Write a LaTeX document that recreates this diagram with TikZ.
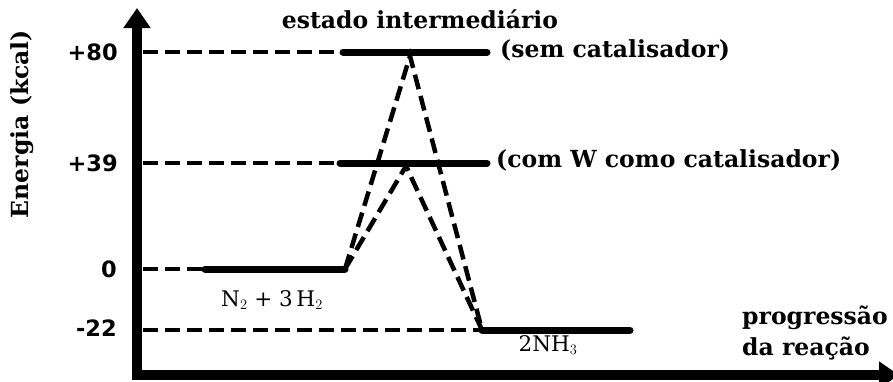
\documentclass[tikz,border=0pt]{standalone}
\usepackage{fontspec}
\setmainfont{DejaVu Serif}
\newfontfamily\numfont{DejaVu Sans}
\usetikzlibrary{arrows.meta}
\begin{document}
\begin{tikzpicture}[x=1pt,y=-1pt,
  axisline/.style={line width=10pt, line join=miter},
  levelbar/.style={line width=7pt, line cap=round},
  guide/.style={line width=4.5pt, dash pattern=on 15pt off 7pt},
  lbl/.style={font=\fontsize{23.5}{26}\selectfont\bfseries, inner sep=0pt},
  numlbl/.style={font=\fontsize{22.5}{24}\selectfont\numfont\bfseries, inner sep=0pt, anchor=east},
  chem/.style={font=\fontsize{21.5}{24}\selectfont, inner sep=0pt}]
\useasboundingbox (0,0) rectangle (893,381);
% axes
\coordinate (Ytop) at (137,8);
\coordinate (O) at (137,375);
\coordinate (Xend) at (899,375);
\draw[axisline, {Triangle[width=26pt,length=20pt]}-{Triangle[width=26pt,length=20pt]}] (Ytop) -- (O) -- (Xend);
% level coordinates
\coordinate (g80) at (143,52);  \coordinate (a80) at (343,52);  \coordinate (b80) at (487,52);
\coordinate (g39) at (143,163); \coordinate (a39) at (340,163); \coordinate (b39) at (487,163);
\coordinate (g0)  at (143,269); \coordinate (a0)  at (205,269); \coordinate (b0)  at (345,269);
\coordinate (g22) at (143,330); \coordinate (a22) at (482,330); \coordinate (b22) at (630,330);
\coordinate (p80) at (410,56);
\coordinate (p39) at (406,166);
% guides
\draw[guide] (g80) -- (a80);
\draw[guide] (g39) -- (a39);
\draw[guide] (g0) -- (a0);
\draw[guide] (g22) -- (a22);
\draw[guide] (b0) -- (p80) -- (a22);
\draw[guide] (b0) -- (p39) -- (a22);
% levels
\draw[levelbar] (a80) -- (b80);
\draw[levelbar] (a39) -- (b39);
\draw[levelbar] (a0) -- (b0);
\draw[levelbar] (a22) -- (b22);
% labels
\node[lbl] (ti) at (420,19) {estado intermediário};
\node[lbl, anchor=west] (sem) at (500,50) {(sem catalisador)};
\node[lbl, anchor=west] (com) at (496,160) {(com W como catalisador)};
\node[numlbl] (n80) at (118,52) {+80};
\node[numlbl] (n39) at (118,163) {+39};
\node[numlbl] (n0) at (117,269) {0};
\node[numlbl] (n22) at (117,328) {-22};
\node[lbl, rotate=90] (en) at (22,124) {Energia (kcal)};
\node[chem] (reag) at (272,300) {N$_2$ + 3\,H$_2$};
\node[chem] (prod) at (548,345) {2NH$_3$};
\node[lbl, anchor=west, align=left, font=\fontsize{23.5}{31}\selectfont\bfseries] (prog) at (742,333) {progressão\\da reação};
\end{tikzpicture}
\end{document}
